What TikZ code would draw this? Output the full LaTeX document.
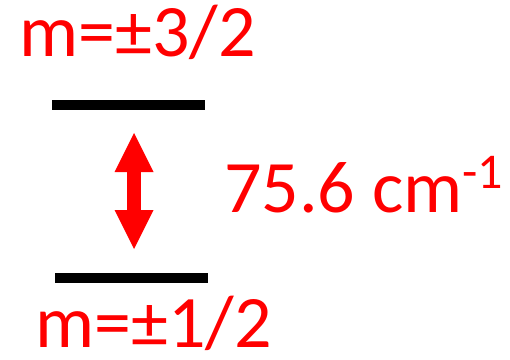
\documentclass[tikz,border=0pt]{standalone}
\usepackage{fontspec}
\setmainfont{Carlito}
\usetikzlibrary{arrows.meta,positioning}
\definecolor{lvlred}{HTML}{FF0000}
\definecolor{lvlink}{HTML}{000000}
\tikzset{
  levelbar/.style ={fill=lvlink, draw=none, inner sep=0pt,
                    minimum width=153pt, minimum height=10pt},
  levellab/.style ={text=lvlred, inner sep=0pt, anchor=base west,
                    font=\fontsize{74}{88}\selectfont},
  gaparr/.style   ={{Triangle[length=39pt,width=39pt,line width=0pt]}-{Triangle[length=39pt,width=39pt,line width=0pt]},
                    line width=14pt, draw=lvlred, fill=lvlred},
}

\begin{document}
\begin{tikzpicture}[x=1pt,y=1pt]
  \useasboundingbox (0,0) rectangle (510,359);

  \node[levelbar] (up)  at (128.5,254) {};
  \node[levelbar] (low) at (131,81)    {};

  \node[levellab] (uplab)  at (19,302) {m=±3/2};
  \node[levellab] (lowlab) at (35,12)  {m=±1/2};
  \node[levellab] (gap)    at (224,147)
    {75.6 cm\raisebox{24pt}{\fontsize{50}{50}\selectfont -1}};

  \coordinate (tipup)  at (134,226);
  \coordinate (tiplow) at (134,110);
  \draw[gaparr] (tiplow) -- (tipup);
\end{tikzpicture}
\end{document}
